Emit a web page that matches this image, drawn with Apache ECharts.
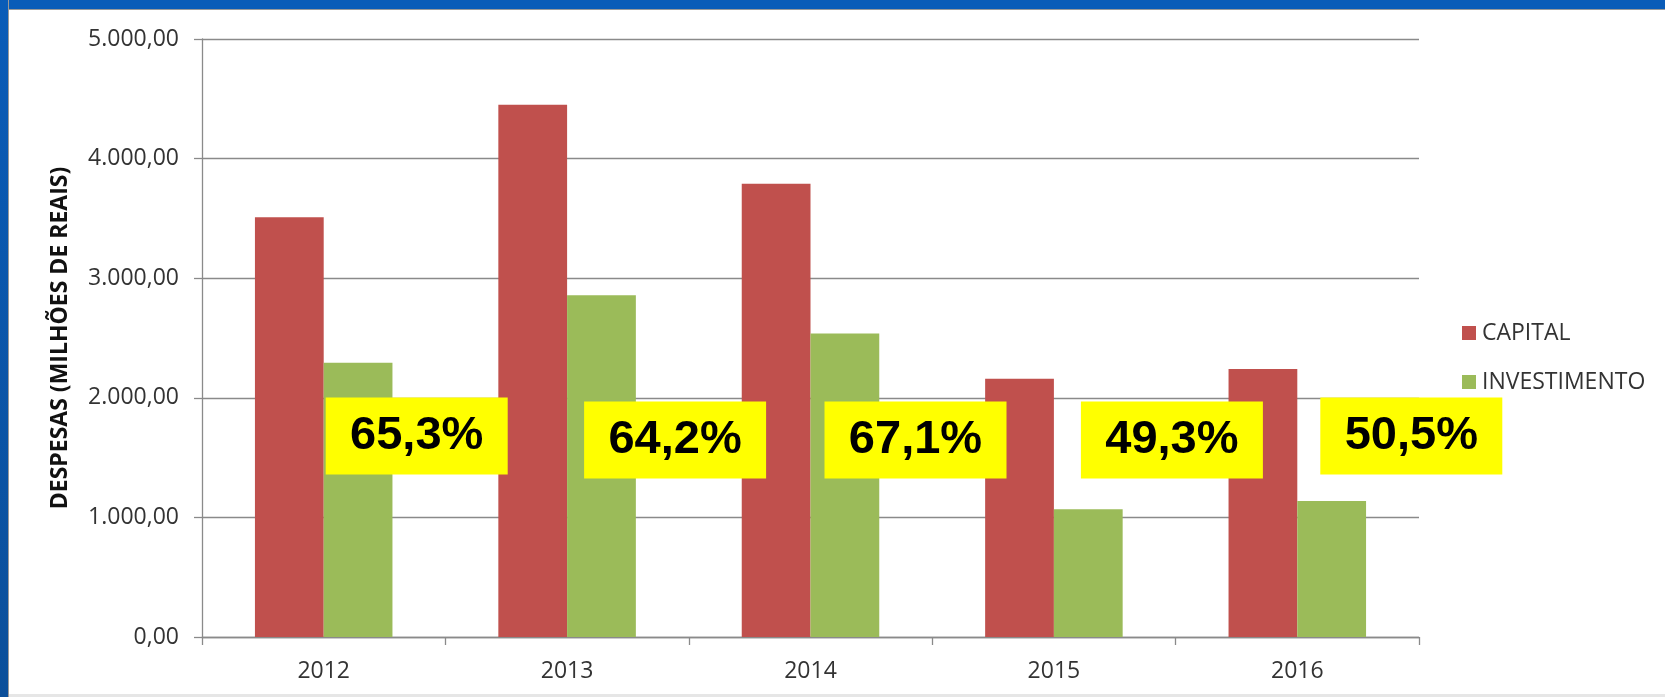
<!DOCTYPE html>
<html>
<head>
<meta charset="utf-8">
<script src="https://cdn.jsdelivr.net/npm/echarts@6/dist/echarts.min.js"></script>
<style>
  html, body { margin: 0; padding: 0; width: 1665px; height: 697px; overflow: hidden; background: #ffffff; }
  #topband { position: absolute; left: 0; top: 0; width: 1665px; height: 9px; background: #0a5cb8; border-bottom: 1px solid #9a9a9a; }
  #leftband { position: absolute; left: 0; top: 0; width: 8px; height: 697px; background: linear-gradient(#0a5cb8, #0b4f9a); border-right: 1px solid #9a9a9a; }
  #bottomline { position: absolute; left: 9px; top: 694px; width: 1656px; height: 3px; background: #e6e6e6; }
  #chart { position: absolute; left: 0; top: 0; width: 1665px; height: 697px; }
</style>
</head>
<body>
<div id="topband"></div>
<div id="leftband"></div>
<div id="bottomline"></div>
<div id="chart"></div>
<script>
const categories = ['2012', '2013', '2014', '2015', '2016'];
const capital = [3510, 4450, 3790, 2159, 2240];
const investimento = [2294, 2857, 2538, 1068, 1138];
const shares = ['65,3%', '64,2%', '67,1%', '49,3%', '50,5%'];
const boxLevels = [1680, 1647, 1647, 1647, 1680];
const yTicks = { min: 0, max: 5000, interval: 1000 };

function fmtBR(v) {
  const s = Math.round(v).toString().replace(/\B(?=(\d{3})+(?!\d))/g, '.');
  return s + ',00';
}

const boxOffsets = [93, 108, 105, 118, 114];

const chart = echarts.init(document.getElementById('chart'), null, { renderer: 'canvas' });
chart.setOption({
  animation: false,
  backgroundColor: 'transparent',
  grid: { left: 202, right: 246, top: 39, bottom: 60, containLabel: false },
  legend: {
    orient: 'vertical',
    left: 1462, top: 321,
    padding: 0,
    itemWidth: 14, itemHeight: 14, itemGap: 25,
    icon: 'rect',
    textStyle: { fontFamily: 'Open Sans', fontSize: 23, color: '#333333', lineHeight: 24, padding: [0, 0, 0, 1] },
    data: ['CAPITAL', 'INVESTIMENTO']
  },
  xAxis: {
    type: 'category',
    data: categories,
    axisLine: { lineStyle: { color: '#8a8a8a', width: 1.3 } },
    axisTick: { show: true, length: 8, lineStyle: { color: '#8a8a8a', width: 1.3 } },
    axisLabel: { fontFamily: 'Open Sans', fontSize: 23, color: '#333333', margin: 23 }
  },
  yAxis: {
    type: 'value',
    min: yTicks.min, max: yTicks.max, interval: yTicks.interval,
    name: 'DESPESAS (MILHÕES DE REAIS)',
    nameLocation: 'middle',
    nameRotate: 90,
    nameGap: 130,
    nameTextStyle: { fontFamily: 'Open Sans', fontWeight: 'bold', fontSize: 23, color: '#111111' },
    axisLine: { show: true, lineStyle: { color: '#8a8a8a', width: 1.3 } },
    axisTick: { show: true, length: 8, lineStyle: { color: '#8a8a8a', width: 1.3 } },
    splitLine: { show: true, lineStyle: { color: '#8a8a8a', width: 1.3 } },
    axisLabel: { fontFamily: 'Open Sans', fontSize: 23, color: '#333333', margin: 23, formatter: fmtBR }
  },
  series: [
    {
      name: 'CAPITAL', type: 'bar', data: capital,
      itemStyle: { color: '#C0504D' },
      barGap: '0%', barCategoryGap: '43.5%'
    },
    {
      name: 'INVESTIMENTO', type: 'bar', data: investimento,
      itemStyle: { color: '#9BBB59' },
      barGap: '0%', barCategoryGap: '43.5%'
    },
    {
      name: 'shares', type: 'scatter', z: 10,
      silent: true,
      symbol: 'rect',
      symbolSize: [182, 77],
      itemStyle: { color: '#FFFF00', opacity: 1 },
      label: {
        show: true, position: 'inside',
        fontFamily: 'Liberation Sans, Arial, sans-serif', fontWeight: 'bold', fontSize: 47, color: '#000000',
        formatter: p => shares[p.dataIndex]
      },
      data: categories.map((c, i) => ({ value: [i, boxLevels[i]], symbolOffset: [boxOffsets[i], 0] }))
    }
  ]
});
</script>
</body>
</html>
